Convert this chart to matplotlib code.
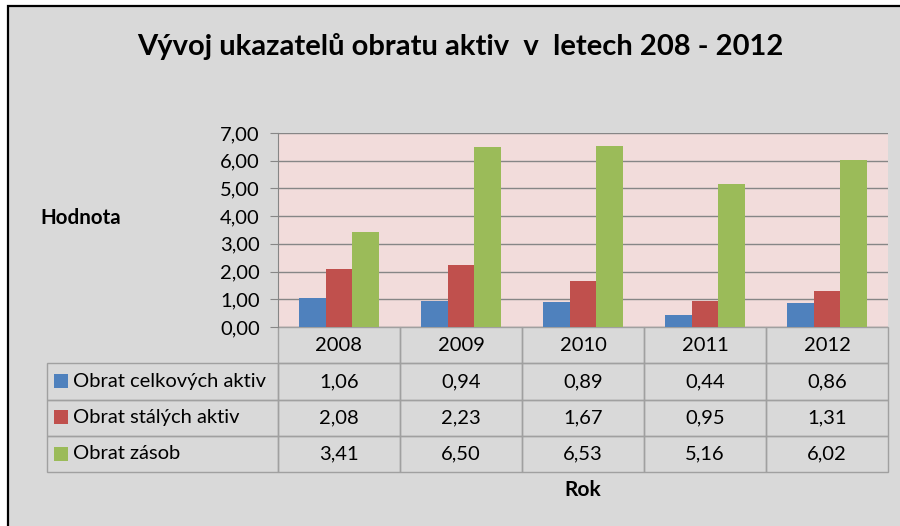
import numpy as np
import matplotlib.pyplot as plt
from matplotlib.patches import Rectangle
from matplotlib.table import Table
from matplotlib.ticker import FuncFormatter

# Data
years = ["2008", "2009", "2010", "2011", "2012"]
series_names = ["Obrat celkových aktiv", "Obrat stálých aktiv", "Obrat zásob"]
celkova_aktiva = [1.06, 0.94, 0.89, 0.44, 0.86]
stala_aktiva = [2.08, 2.23, 1.67, 0.95, 1.31]
zasoby = [3.41, 6.50, 6.53, 5.16, 6.02]
colors = ["#4F81BD", "#C0504D", "#9BBB59"]

values = [celkova_aktiva, stala_aktiva, zasoby]

plt.rcParams["font.family"] = ["Lato", "DejaVu Sans"]

W, H = 900, 526
fig = plt.figure(figsize=(W / 100, H / 100), dpi=100, facecolor="white")

# Chart background with black border (top/left visible)
fig.patches.append(Rectangle((8 / W, -0.05), 1.2, 1 - 6 / H + 0.05,
                             transform=fig.transFigure, facecolor="#D9D9D9",
                             edgecolor="black", linewidth=1.6, zorder=-10))

ax = fig.add_axes([278 / W, 1 - 327 / H, (888 - 278) / W, (327 - 133) / H])
ax.set_facecolor("#F2DCDB")

x = np.arange(len(years))
width = 0.22
for i, (vals, col) in enumerate(zip(values, colors)):
    ax.bar(x + (i - 1) * width, vals, width, color=col, zorder=3)

ax.set_xlim(-0.5, len(years) - 0.5)
ax.set_ylim(0, 7)
ax.set_yticks(np.arange(0, 8, 1))
ax.yaxis.set_major_formatter(FuncFormatter(lambda v, p: f"{v:.2f}".replace(".", ",")))
ax.set_xticks([])
ax.grid(axis="y", color="#868686", linewidth=1.0)
ax.set_axisbelow(True)
for s in ["top", "right", "bottom"]:
    ax.spines[s].set_visible(False)
ax.spines["left"].set_color("#868686")
ax.tick_params(axis="y", length=6, color="#868686", labelsize=14.5, pad=7)

# Data table below the axes (first column holds the series names)
edge = "#A0A0A0"
tab = Table(ax, bbox=[(47 - 278) / 610, -145 / 194, (888 - 47) / 610, 145 / 194])
col_w = 122
lab_w = 231
blank = tab.add_cell(0, 0, width=lab_w, height=1, text="", facecolor="none",
                     edgecolor=edge)
blank.set_visible(False)
for j, yr in enumerate(years):
    tab.add_cell(0, j + 1, width=col_w, height=1, text=yr, loc="center",
                 facecolor="none", edgecolor=edge)
for i, name in enumerate(series_names):
    c = tab.add_cell(i + 1, 0, width=lab_w, height=1, text=name, loc="left",
                     facecolor="none", edgecolor=edge)
    c.PAD = 0.113
    for j, v in enumerate(values[i]):
        tab.add_cell(i + 1, j + 1, width=col_w, height=1,
                     text=f"{v:.2f}".replace(".", ","), loc="center",
                     facecolor="none", edgecolor=edge)
tab.auto_set_font_size(False)
tab.set_fontsize(14.5)
for cell in tab.get_celld().values():
    cell.set_linewidth(1.0)
ax.add_table(tab)

# Legend keys in the table
for i, col in enumerate(colors):
    yc = (381 + i * 36.3 - 327) / 194
    ax.add_patch(Rectangle(((54 - 278) / 610, -yc - 7 / 194), 14 / 610, 14 / 194,
                           transform=ax.transAxes, facecolor=col, edgecolor="none",
                           clip_on=False))

fig.text(460 / W, 1 - 46 / H, "Vývoj ukazatelů obratu aktiv  v  letech 208 - 2012",
         ha="center", va="center", fontsize=21, fontweight="bold")
fig.text(40 / W, 1 - 218 / H, "Hodnota", ha="left", va="center", fontsize=14.8,
         fontweight="bold")
fig.text(583 / W, 1 - 490 / H, "Rok", ha="center", va="center", fontsize=15,
         fontweight="bold")

fig.savefig("out.png", dpi=100, facecolor=fig.get_facecolor())
